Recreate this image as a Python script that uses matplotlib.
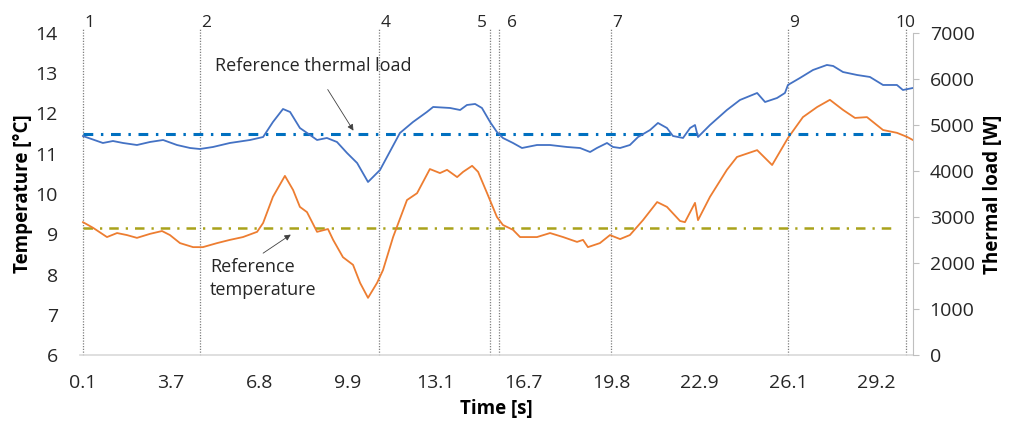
import numpy as np
import matplotlib.pyplot as plt

plt.rcParams['font.family'] = ['Open Sans', 'DejaVu Sans']

# x tick labels (Excel category axis, evenly spaced)
tick_labels = ["0.1", "3.7", "6.8", "9.9", "13.1", "16.7", "19.8", "22.9", "26.1", "29.2"]

# thermal load (blue, right axis)
time_load = [0.1, 0.83, 1.20, 1.57, 2.08, 2.56, 3.04, 3.55, 4.03, 4.39, 4.87, 5.49, 6.23, 6.71,
             7.07, 7.44, 7.70, 8.06, 8.43, 8.69, 9.05, 9.42, 9.79, 10.16, 10.56, 11.0, 11.73,
             12.21, 12.72, 12.95, 13.57, 13.94, 14.19, 14.49, 14.74, 15.04, 15.29, 15.51, 15.88,
             16.21, 16.76, 17.24, 17.86, 18.34, 18.71, 18.96, 19.33, 19.55, 19.81, 20.17, 20.47,
             20.91, 21.20, 21.53, 21.75, 22.12, 22.38, 22.56, 22.67, 23.11, 23.73, 24.21, 24.84,
             25.13, 25.57, 25.86, 25.97, 26.41, 26.89, 27.40, 27.63, 27.99, 28.51, 28.98, 29.46,
             29.97, 30.19, 30.56]
load_w = [4760, 4609, 4652, 4609, 4565, 4631, 4674, 4565, 4500, 4478, 4522, 4609, 4674, 4739,
          5065, 5348, 5283, 4935, 4783, 4674, 4718, 4631, 4391, 4174, 3761, 4022, 4826,
          5065, 5283, 5392, 5370, 5326, 5435, 5457, 5370, 5065, 4848, 4718, 4609,
          4500, 4565, 4565, 4522, 4500, 4413, 4500, 4609, 4522, 4500, 4565, 4739,
          4891, 5044, 4935, 4761, 4718, 4935, 5000, 4739, 5000, 5326, 5544, 5696,
          5500, 5587, 5696, 5870, 6022, 6196, 6305, 6283, 6152, 6087, 6044, 5870,
          5870, 5761, 5805]

# temperature (orange, left axis)
time_temp = [0.1, 0.47, 0.98, 1.35, 1.71, 2.08, 2.56, 3.00, 3.29, 3.66, 4.14, 4.50, 5.02, 5.49,
             5.97, 6.49, 6.71, 7.07, 7.51, 7.81, 8.06, 8.32, 8.69, 9.09, 9.28, 9.64, 10.01,
             10.27, 10.56, 10.89, 11.11, 11.48, 11.99, 12.36, 12.83, 13.20, 13.46, 13.83, 14.05,
             14.38, 14.60, 14.93, 15.29, 15.51, 15.88, 16.14, 16.76, 17.24, 17.72, 18.23, 18.45,
             18.63, 19.07, 19.44, 19.81, 20.17, 20.65, 21.17, 21.53, 22.01, 22.19, 22.56, 22.67,
             23.11, 23.73, 24.10, 24.84, 25.39, 25.97, 26.52, 27.04, 27.51, 27.99, 28.43, 28.87,
             29.46, 29.97, 30.34, 30.56]
temp_c = [9.30, 9.16, 8.93, 9.03, 8.98, 8.91, 9.01, 9.08, 8.98, 8.78, 8.68, 8.68, 8.78, 8.86,
          8.93, 9.06, 9.28, 9.93, 10.45, 10.10, 9.68, 9.55, 9.06, 9.13, 8.86, 8.43, 8.24,
          7.79, 7.42, 7.79, 8.11, 8.93, 9.85, 10.02, 10.62, 10.52, 10.60, 10.42, 10.55,
          10.70, 10.55, 10.02, 9.43, 9.23, 9.11, 8.93, 8.93, 9.03, 8.93, 8.81, 8.86,
          8.68, 8.78, 8.98, 8.88, 8.98, 9.35, 9.80, 9.68, 9.33, 9.30, 9.78, 9.35,
          9.93, 10.60, 10.92, 11.09, 10.72, 11.39, 11.91, 12.16, 12.34, 12.09, 11.89, 11.91,
          11.59, 11.52, 11.42, 11.34]

ref_load = 4800
ref_temp = 9.15
ref_end = 29.8

# event markers
marker_t = [0.1, 4.39, 10.96, 15.04, 15.37, 19.48, 25.97, 30.30]
marker_lbl = ["1", "2", "4", "5", "6", "7", "9", "10"]

fig = plt.figure(figsize=(10.21, 4.28), dpi=100)
ax = fig.add_axes([80/1021, 73/428, 833/1021, 322/428])
ax2 = ax.twinx()

ax.plot(time_temp, temp_c, color='#ED7D31', lw=1.3, zorder=3)
ax.plot([0.1, ref_end], [ref_temp, ref_temp], color='#A9A21B', lw=1.8,
        dashes=(3.8, 2.8, 0.9, 2.8), zorder=2)
ax2.plot(time_load, load_w, color='#4472C4', lw=1.3, zorder=3)
ax2.plot([0.1, ref_end], [ref_load, ref_load], color='#0070C0', lw=2.2,
         dashes=(3.2, 2.5, 0.8, 2.5), zorder=2)

ax.set_xlim(-0.01, 30.56)
ax.set_ylim(6, 14)
ax2.set_ylim(0, 7000)

ax.set_xticks(np.linspace(0.1, 29.2, len(tick_labels)))
ax.set_xticklabels(tick_labels)
ax.set_yticks(range(6, 15))
ax2.set_yticks(range(0, 7001, 1000))

for a in (ax, ax2):
    for s in a.spines.values():
        s.set_visible(False)
ax.spines['bottom'].set_visible(True)
ax.spines['bottom'].set_color('#d9d9d9')
ax.spines['bottom'].set_linewidth(1.2)
ax2.spines['right'].set_visible(True)
ax2.spines['right'].set_color('#bfbfbf')

ax.tick_params(axis='x', length=0, labelsize=14, pad=14, colors='#262626')
ax.tick_params(axis='y', length=0, labelsize=14, pad=16, colors='#262626')
ax2.tick_params(axis='y', length=4, color='#bfbfbf', labelsize=14, pad=8, labelcolor='#262626')

ax.set_xlabel("Time [s]", fontsize=13.5, fontweight='bold', labelpad=5)
ax.set_ylabel("Temperature [°C]", fontsize=13.5, fontweight='bold', labelpad=2)
ax2.set_ylabel("Thermal load [W]", fontsize=13.5, fontweight='bold', labelpad=6)

# vertical dotted event lines with numbers
offsets = [0.05, 0.05, 0.05, -0.1, 0.3, 0.05, 0.05, 0.0]
aligns = ['left', 'left', 'left', 'right', 'left', 'left', 'left', 'center']
for t, lbl, off, ha in zip(marker_t, marker_lbl, offsets, aligns):
    ax.plot([t, t], [6, 14.1], color='#7f7f7f', lw=0.9, ls=(0, (1, 1.2)),
            clip_on=False, zorder=1)
    ax.text(t + off, 14.24, lbl, ha=ha, va='center', fontsize=12.5, color='#262626')

ax2.annotate("Reference thermal load", xy=(10.08, 4826), xytext=(8.54, 6283),
             ha='center', va='center', fontsize=13, color='#262626',
             arrowprops=dict(arrowstyle='-|>', color='#404040', lw=0.6,
                             mutation_scale=9, shrinkA=10))
ax.annotate("", xy=(7.81, 9.03), xytext=(6.71, 8.53),
            arrowprops=dict(arrowstyle='-|>', color='#404040', lw=0.6,
                            mutation_scale=9, shrinkA=0))
ax.text(4.76, 8.40, "Reference\ntemperature", ha='left', va='top', fontsize=13,
        color='#262626', linespacing=1.3)

plt.savefig("out.png", dpi=100)
